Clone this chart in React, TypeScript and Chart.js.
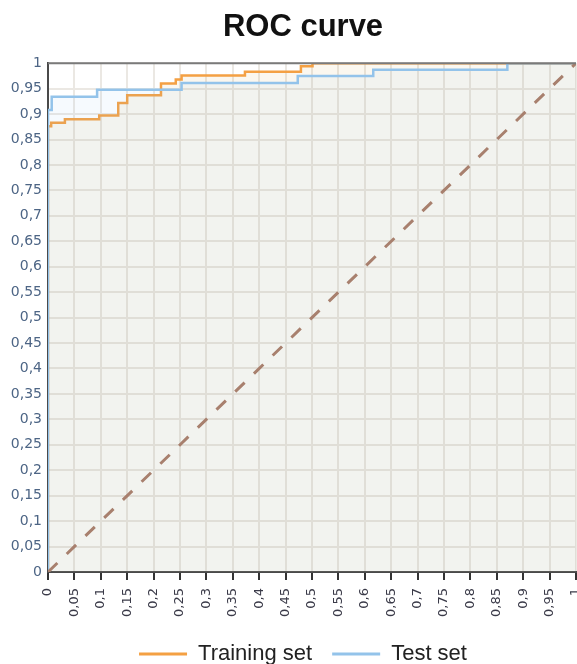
import React, { useEffect, useRef } from 'react';
import { Chart, registerables } from 'chart.js';

Chart.register(...registerables);

const chartTitle = 'ROC curve';
const seriesNames = ['Training set', 'Test set'];

// Training set ROC: false positive rate at each rise, true positive rate after it
const trainFpr = [0, 0.006, 0.032, 0.097, 0.133, 0.15, 0.214, 0.242, 0.253, 0.373, 0.479, 0.501, 0.89, 1];
const trainTpr = [0, 0.876, 0.883, 0.89, 0.897, 0.922, 0.937, 0.96, 0.968, 0.976, 0.983, 0.994, 1, 1];

// Test set ROC
const testFpr = [0, 0.007, 0.093, 0.253, 0.473, 0.616, 0.87, 0.995, 1];
const testTpr = [0, 0.908, 0.934, 0.948, 0.961, 0.975, 0.987, 1, 1];

// Random-classifier diagonal
const diagFpr = [0, 1];
const diagTpr = [0, 1];

const xTickValues = [0, 0.05, 0.1, 0.15, 0.2, 0.25, 0.3, 0.35, 0.4, 0.45, 0.5, 0.55, 0.6, 0.65, 0.7, 0.75, 0.8, 0.85, 0.9, 0.95, 1];
const xTickLabels = ['0', '0,05', '0,1', '0,15', '0,2', '0,25', '0,3', '0,35', '0,4', '0,45', '0,5', '0,55', '0,6', '0,65', '0,7', '0,75', '0,8', '0,85', '0,9', '0,95', '1'];
const yTickValues = [0, 0.05, 0.1, 0.15, 0.2, 0.25, 0.3, 0.35, 0.4, 0.45, 0.5, 0.55, 0.6, 0.65, 0.7, 0.75, 0.8, 0.85, 0.9, 0.95, 1];
const yTickLabels = ['0', '0,05', '0,1', '0,15', '0,2', '0,25', '0,3', '0,35', '0,4', '0,45', '0,5', '0,55', '0,6', '0,65', '0,7', '0,75', '0,8', '0,85', '0,9', '0,95', '1'];

const toPoints = (xs: number[], ys: number[]) => xs.map((x, i) => ({ x, y: ys[i] }));

const topBorder = {
  id: 'topBorder',
  afterDatasetsDraw(chart: any) {
    const { ctx, chartArea } = chart;
    ctx.save();
    ctx.strokeStyle = '#7a7a7a';
    ctx.lineWidth = 2;
    ctx.beginPath();
    ctx.moveTo(chartArea.left, chartArea.top);
    ctx.lineTo(chartArea.right, chartArea.top);
    ctx.stroke();
    ctx.restore();
  },
};

export default function App() {
  const ref = useRef<HTMLCanvasElement | null>(null);

  useEffect(() => {
    if (!ref.current) return;
    Chart.defaults.font.family = "'DejaVu Sans', Verdana, sans-serif";
    const chart = new Chart(ref.current, {
      type: 'line',
      data: {
        datasets: [
          {
            label: seriesNames[0],
            data: toPoints(trainFpr, trainTpr),
            borderColor: '#f4a043',
            backgroundColor: 'rgba(205,150,40,0.075)',
            borderWidth: 2.5,
            fill: 'origin',
            stepped: 'after',
            pointRadius: 0,
            order: 2,
          },
          {
            label: seriesNames[1],
            data: toPoints(testFpr, testTpr),
            borderColor: '#93c3ea',
            backgroundColor: 'rgba(140,185,240,0.08)',
            borderWidth: 2.5,
            fill: 'origin',
            stepped: 'after',
            pointRadius: 0,
            order: 1,
          },
          {
            label: 'diagonal',
            data: toPoints(diagFpr, diagTpr),
            borderColor: '#a8806e',
            borderWidth: 3,
            borderDash: [13, 13],
            fill: false,
            pointRadius: 0,
            order: 0,
          },
        ],
      },
      options: {
        responsive: false,
        animation: false,
        events: [],
        layout: { padding: { left: 30, right: 1, top: 0, bottom: -11 } },
        scales: {
          x: {
            type: 'linear',
            min: 0,
            max: 1,
            afterBuildTicks: (scale: any) => {
              scale.ticks = xTickValues.map((v) => ({ value: v }));
            },
            afterFit: (scale: any) => {
              scale.height = 51;
              scale.paddingLeft = 0;
              scale.paddingRight = 0;
            },
            ticks: {
              autoSkip: false,
              minRotation: 90,
              maxRotation: 90,
              padding: 8,
              color: '#3a3a48',
              font: { size: 13 },
              callback: (_v: any, i: number) => xTickLabels[i],
            },
            grid: {
              color: '#ebe8e3',
              lineWidth: 2,
              drawTicks: true,
              tickLength: 8,
              tickColor: '#333333',
              tickWidth: 2,
            },
            border: { display: true, color: '#4a4a4a', width: 2 },
          },
          y: {
            type: 'linear',
            min: 0,
            max: 1,
            afterBuildTicks: (scale: any) => {
              scale.ticks = yTickValues.map((v) => ({ value: v }));
            },
            afterFit: (scale: any) => {
              scale.width = 18;
              scale.paddingTop = 0;
              scale.paddingBottom = 0;
              // let the labels extend left of this narrow box without being clipped
              scale._computeLabelArea = () => undefined;
            },
            ticks: {
              autoSkip: false,
              padding: 6,
              color: '#4d6585',
              font: { size: 14 },
              callback: (_v: any, i: number) => yTickLabels[i],
            },
            grid: {
              color: '#ebe8e3',
              lineWidth: 2,
              drawTicks: false,
            },
            border: { display: true, color: '#4a4a4a', width: 2 },
          },
        },
        plugins: {
          title: {
            display: true,
            text: chartTitle,
            color: '#111111',
            font: { size: 31, weight: 'bold', family: "'Liberation Sans', Arial, sans-serif" },
            padding: { top: 9, bottom: 17 },
          },
          legend: {
            display: true,
            position: 'bottom',
            labels: {
              boxWidth: 48,
              boxHeight: 3,
              padding: 20,
              color: '#222222',
              font: { size: 22, family: "'Liberation Sans', Arial, sans-serif" },
              generateLabels: (c: any) =>
                Chart.defaults.plugins.legend.labels
                  .generateLabels(c)
                  .filter((l: any) => l.datasetIndex < 2)
                  .sort((a: any, b: any) => a.datasetIndex - b.datasetIndex)
                  .map((l: any) => ({ ...l, fillStyle: l.strokeStyle, lineWidth: 0, lineDash: [] })),
            },
          },
          tooltip: { enabled: false },
        },
      },
      plugins: [topBorder],
    } as any);
    return () => chart.destroy();
  }, []);

  return (
    <div style={{ position: 'absolute', left: 0, top: 0, width: 577, height: 664, background: '#ffffff' }}>
      <canvas ref={ref} width={577} height={664} style={{ display: 'block' }} />
    </div>
  );
}
